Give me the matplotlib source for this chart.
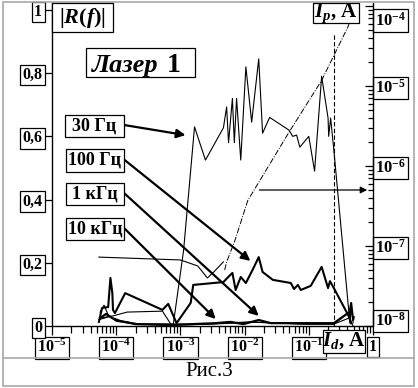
import numpy as np
import matplotlib
matplotlib.use('Agg')
import matplotlib.pyplot as plt
from matplotlib.patches import Rectangle
from matplotlib.lines import Line2D
from matplotlib.ticker import LogLocator, NullFormatter
from matplotlib.transforms import ScaledTranslation

plt.rcParams['font.family'] = ['Liberation Serif', 'DejaVu Serif']
plt.rcParams['font.weight'] = 'bold'
plt.rcParams['mathtext.fontset'] = 'custom'
plt.rcParams['mathtext.rm'] = 'Liberation Serif:bold'
plt.rcParams['mathtext.it'] = 'Liberation Serif:italic:bold'
plt.rcParams['mathtext.bf'] = 'Liberation Serif:bold'
plt.rcParams['mathtext.default'] = 'regular'

# data; x is given as log10(Id, A)
lg_30hz = [-4.27, -4.1, -4.0, -3.7, -3.11, -2.95, -2.78, -2.61, -2.33, -2.28, -2.25, -2.19,
           -2.16, -2.125, -2.06, -1.98, -1.89, -1.78, -1.72, -1.61, -1.31, -1.25, -1.19,
           -1.14, -1.0, -0.91, -0.80, -0.70, -0.69, -0.66, -0.61, -0.36, -0.34, -0.31]
r_30hz = [0.02, 0.03, 0.015, 0.006, 0.006, 0.24, 0.63, 0.525, 0.627, 0.693, 0.58, 0.72,
          0.58, 0.72, 0.525, 0.82, 0.645, 0.845, 0.61, 0.66, 0.62, 0.60, 0.604,
          0.566, 0.60, 0.49, 0.79, 0.658, 0.60, 0.658, 0.557, 0.009, 0.06, 0.01]

lg_100hz = [-4.27, -4.22, -4.125, -4.09, -4.06, -4.05, -4.02, -3.86, -3.28, -3.19, -3.06,
            -2.84, -2.80, -2.33, -2.27, -2.19, -2.14, -2.06, -1.98, -1.86, -1.78, -1.72,
            -1.56, -1.28, -1.23, -1.17, -1.125, -0.97, -0.80, -0.70, -0.67, -0.61, -0.375,
            -0.34, -0.31, -0.30]
r_100hz = [0.013, 0.057, 0.06, 0.152, 0.104, 0.051, 0.041, 0.104, 0.051, 0.07, 0.009,
           0.073, 0.13, 0.139, 0.152, 0.168, 0.114, 0.155, 0.136, 0.184, 0.218, 0.171,
           0.146, 0.136, 0.117, 0.13, 0.114, 0.127, 0.187, 0.12, 0.142, 0.12, 0.03,
           0.073, 0.019, 0.028]

lg_1khz = [-4.25, -4.19, -4.125, -4.02, -3.625, -2.69, -1.91, -1.125, -0.61, -0.375, -0.31]
r_1khz = [0.044, 0.066, 0.035, 0.019, 0.006, 0.006, 0.013, 0.006, 0.006, 0.025, 0.0]

lg_10khz = [-4.25, -4.16, -4.06, -3.94, -3.70, -3.16, -2.45, -2.22, -2.02, -1.78, -1.59,
            -1.125, -0.61, -0.39, -0.34]
r_10khz = [0.025, 0.038, 0.025, 0.016, 0.006, 0.003, 0.009, 0.013, 0.006, 0.019, 0.009,
           0.009, 0.009, 0.041, 0.009]

lg_low = [-4.25, -4.05, -3.83, -3.28, -3.14, -2.5, -1.9, -1.0, -0.61, -0.39]
r_low = [0.025, 0.032, 0.044, 0.047, 0.003, 0.006, 0.012, 0.006, 0.006, 0.04]

lg_flat = [-4.27, -3.0, -2.73, -2.58, -2.48, -2.33]
r_flat = [0.218, 0.209, 0.19, 0.152, 0.171, 0.203]

# Ip (right axis), log10 of both
lg_ip_x = [-2.31, -2.28, -2.15, -1.95, -1.31, -0.80, -0.39, -0.30]
lg_ip = [-7.3, -7.2, -6.93, -6.43, -5.58, -4.93, -4.26, -4.05]

lg_id_mark = -0.61

x_ticks = [1e-5, 1e-4, 1e-3, 1e-2, 1e-1, 1]
x_labels = ['10$^{-5}$', '10$^{-4}$', '10$^{-3}$', '10$^{-2}$', '10$^{-1}$', '1']
y_ticks = [0, 0.2, 0.4, 0.6, 0.8, 1]
y_labels = ['0', '0,2', '0,4', '0,6', '0,8', '1']
ip_ticks = [1e-8, 1e-7, 1e-6, 1e-5, 1e-4]
ip_labels = ['10$^{-8}$', '10$^{-7}$', '10$^{-6}$', '10$^{-5}$', '10$^{-4}$']

W, H = 418, 388


def fx(px):
    return px / W


def fy(py):
    return 1 - py / H


fig = plt.figure(figsize=(W / 100, H / 100), dpi=100)
ax = fig.add_axes([fx(52), fy(326), (373 - 52) / W, (326 - 3) / H])
ax2 = ax.twinx()

ax.set_xscale('log')
ax.set_xlim(1e-5, 1)
ax.set_ylim(0, 1.022)
ax2.set_yscale('log')
ax2.set_ylim(1e-8, 10 ** -3.9625)

for s in ['top', 'right']:
    ax.spines[s].set_visible(False)
for s in ['top', 'left', 'bottom']:
    ax2.spines[s].set_visible(False)
for sp in list(ax.spines.values()) + list(ax2.spines.values()):
    sp.set_linewidth(1.0)

box = dict(boxstyle='square,pad=0.14', fc='white', ec='black', lw=0.9)

ax.set_xticks(x_ticks, x_labels)
ax.xaxis.set_minor_locator(LogLocator(base=10, subs=np.arange(2, 10)))
ax.xaxis.set_minor_formatter(NullFormatter())
ax.tick_params(axis='x', which='major', direction='out', length=6.5, width=0.9,
               pad=3, labelsize=11.5)
ax.tick_params(axis='x', which='minor', direction='out', length=5, width=0.9)
ax.set_yticks(y_ticks, y_labels)
ax.tick_params(axis='y', direction='out', length=5.5, width=0.9, pad=1.5, labelsize=11.5)
for t in ax.get_xticklabels() + ax.get_yticklabels():
    t.set_bbox(box)

ax2.set_yticks(ip_ticks, ip_labels)
ax2.yaxis.set_minor_locator(LogLocator(base=10, subs=np.arange(2, 10)))
ax2.yaxis.set_minor_formatter(NullFormatter())
ax2.tick_params(axis='y', which='major', direction='in', length=6, width=0.9,
                pad=1.5, labelsize=12)
ax2.tick_params(axis='y', which='minor', direction='in', length=3.5, width=0.9)
ip_tl = ax2.get_yticklabels()
for t in ip_tl:
    t.set_bbox(box)
# lowest and highest labels sit a little inside the axis, as in the picture
ip_tl[0].set_transform(ip_tl[0].get_transform() + ScaledTranslation(0, 5 / 72, fig.dpi_scale_trans))
ip_tl[-1].set_transform(ip_tl[-1].get_transform() + ScaledTranslation(0, -9 / 72, fig.dpi_scale_trans))

# curves
ax.plot(10 ** np.array(lg_30hz), r_30hz, color='k', lw=0.8)
ax.plot(10 ** np.array(lg_100hz), r_100hz, color='k', lw=1.5)
ax.plot(10 ** np.array(lg_1khz), r_1khz, color='k', lw=0.8)
ax.plot(10 ** np.array(lg_10khz), r_10khz, color='k', lw=1.6)
ax.plot(10 ** np.array(lg_low), r_low, color='k', lw=0.8)
ax.plot(10 ** np.array(lg_flat), r_flat, color='k', lw=0.8)
ax.plot([10 ** lg_id_mark] * 2, [0, 0.927], color='k', lw=0.8, dashes=(4, 2))

ax2.plot(10 ** np.array(lg_ip_x), 10 ** np.array(lg_ip), color='k', lw=0.7,
         ls=(0, (6, 1.5, 1, 1.5)))
ax2.annotate('', xy=(10 ** -0.09, 10 ** -6.3), xytext=(10 ** -1.77, 10 ** -6.3),
             arrowprops=dict(arrowstyle='-|>', lw=0.9, color='k', mutation_scale=10,
                             shrinkA=0, shrinkB=0))

# labelled boxes with arrows
labels = [('30 Гц', 65, 115, 59, 22, (10 ** -2.92, 0.604)),
          ('100 Гц', 66, 149, 58, 23, (10 ** -1.91, 0.206)),
          ('1 кГц', 66, 183, 58, 22, (10 ** -1.78, 0.032)),
          ('10 кГц', 66, 218, 58, 22, (10 ** -2.45, 0.022))]
for txt, px, py, w, h, tip in labels:
    fig.add_artist(Rectangle((fx(px), fy(py + h)), w / W, h / H, transform=fig.transFigure,
                             fc='white', ec='k', lw=0.9, zorder=4))
    fig.text(fx(px + w / 2), fy(py + h / 2), txt, ha='center', va='center',
             fontsize=13, zorder=5)
    ax.annotate('', xy=tip, xytext=(px + w, H - (py + h / 2 - 1)),
                textcoords='figure pixels',
                arrowprops=dict(arrowstyle='-|>', lw=1.6, color='k', mutation_scale=13,
                                shrinkA=0, shrinkB=0))


def framed(px, py, w, h):
    fig.add_artist(Rectangle((fx(px), fy(py + h)), w / W, h / H, transform=fig.transFigure,
                             fc='white', ec='k', lw=0.9, zorder=4))


framed(52, 3, 61, 29)
fig.text(fx(82.5), fy(18), '|$\\mathit{R}$($\\mathit{f}$)|', ha='center', va='center',
         fontsize=16, zorder=5)
framed(86, 48, 109, 29)
fig.text(fx(92), fy(72), 'Лазер', ha='left', va='baseline', fontsize=19,
         fontstyle='italic', zorder=5)
fig.text(fx(167), fy(72), '1', ha='left', va='baseline', fontsize=20, zorder=5)
framed(313, 3, 46, 20)
fig.text(fx(336), fy(13), '$\\mathit{I}_{\\mathit{p}}$, A', ha='center', va='center',
         fontsize=15, zorder=5)
framed(323, 330, 42, 23)
fig.text(fx(344), fy(341), '$\\mathit{I}_{\\mathit{d}}$, A', ha='center', va='center',
         fontsize=15, zorder=5)

# page frame and caption
fig.add_artist(Rectangle((fx(3), fy(386)), (414 - 3) / W, (386 - 2) / H,
                         transform=fig.transFigure, fill=False, ec='#a8a8a8', lw=1.2))
fig.add_artist(Line2D([fx(3), fx(414)], [fy(358), fy(358)], color='#a8a8a8', lw=1.2))
fig.text(fx(209), fy(371), 'Рис.3', ha='center', va='center', fontsize=15,
         fontweight='normal')

fig.savefig('out.png', dpi=100)
